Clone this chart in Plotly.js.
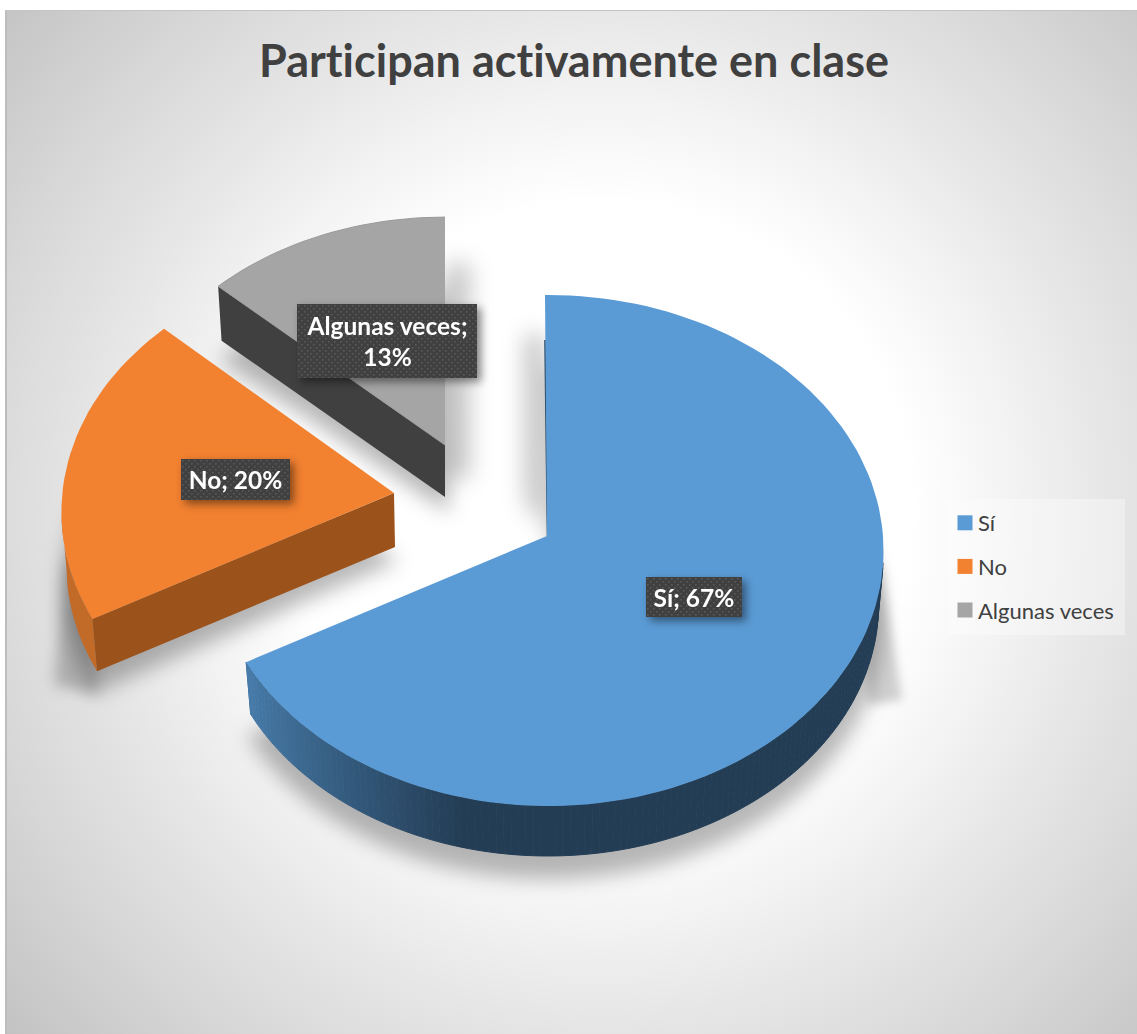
<!DOCTYPE html>
<html>
<head>
<meta charset="utf-8">
<script src="https://cdn.plot.ly/plotly-3.0.1.min.js"></script>
<style>
html,body{margin:0;padding:0;background:#fff;width:1137px;height:1034px;overflow:hidden}
#bg{position:absolute;left:5px;top:10px;width:1132px;height:1024px;box-sizing:border-box;border-left:2px solid #bdbdbd;border-top:1px solid #c4c4c4;
background:radial-gradient(circle at 595px 500px,#fff 0,#fff 310px,#f3f3f3 410px,#e6e6e6 510px,#d9d9d9 620px,#c2c2c2 800px)}
#chart{position:absolute;left:0;top:0;width:1137px;height:1034px}
svg text,svg tspan{font-variant-ligatures:none !important;font-feature-settings:"liga" 0,"clig" 0 !important;letter-spacing:0.01px}
</style>
</head>
<body>
<div id="bg"></div>
<div id="chart"></div>
<script>
// ---- data ----
const categories = ['Sí', 'No', 'Algunas veces'];
const shares = [67, 20, 13];
const chartTitle = 'Participan activamente en clase';

// ---- styling ----
const faceColors = ['#5b9bd5', '#f28130', '#a5a5a5'];
const cutColors = [null, '#9c521b', '#404040'];
const labelBreaks = ['; ', '; ', ';<br>'];

// ---- 3D projection geometry (pixels on the axes) ----
const RX = 335, RY = 254.7, BOTTOM_SCALE = 0.985;
const geom = [
  {ax: 548, ay: 536, scale: 1.00, depth: 54, p: 0.0568, ky: 1},
  {ax: 394, ay: 493, scale: 0.99, depth: 54, p: 0.075, ky: 1},
  {ax: 445, ay: 445, scale: 0.965, depth: 52, p: 0.0568, ky: 0.98}
];
const labelBoxes = [
  {x: 694, y: 597, w: 96, h: 40},
  {x: 235.5, y: 479.5, w: 109, h: 41},
  {x: 387, y: 341, w: 180, h: 74}
];

function proj(deg, g, bottom) {
  const t = deg * Math.PI / 180, X = Math.sin(t), Y = Math.cos(t);
  const s = g.scale * (bottom ? BOTTOM_SCALE : 1) / (1 + g.p * Y);
  return [g.ax + RX * X * s, g.ay - RY * g.ky * Y * s + (bottom ? g.depth : 0)];
}
function poly(pts, color, extra) {
  return Object.assign({
    x: pts.map(p => p[0]), y: pts.map(p => p[1]), mode: 'lines', fill: 'toself',
    fillcolor: color, line: {width: 0, color: color}, showlegend: false, hoverinfo: 'skip'
  }, extra || {});
}
function mix(a, b, t) {
  const c = [0, 1, 2].map(i => Math.round(a[i] + (b[i] - a[i]) * t));
  return 'rgb(' + c.join(',') + ')';
}

// slice start / end angles from the values
const total = shares.reduce((a, b) => a + b, 0);
let run = 0;
const spans = shares.map(v => { const s = [run / total * 360, (run + v) / total * 360]; run += v; return s; });

function ring(g, a0, a1, bottom, extraScale, extraDy) {
  const pts = [];
  const n = Math.max(4, Math.ceil(Math.abs(a1 - a0) / 2));
  const gg = Object.assign({}, g, {scale: g.scale * (extraScale || 1), ay: g.ay + (extraDy || 0)});
  for (let i = 0; i <= n; i++) pts.push(proj(a0 + (a1 - a0) * i / n, gg, bottom));
  return pts;
}

const traces = [];
// soft shadows first
const shadows = [];
function shadow(pts, color, blur) { shadows.push({i: traces.length, blur: blur}); traces.push(poly(pts, color)); }
// projected wedges around the pie
shadow([[881, 560], [902, 700], [868, 705], [862, 600]], 'rgba(0,0,0,0.17)', 5);
shadow([[66, 555], [54, 685], [98, 695], [92, 600]], 'rgba(0,0,0,0.22)', 7);
shadow([[445, 263], [470, 263], [470, 478], [445, 478]], 'rgba(0,0,0,0.22)', 11);
shadow([[545, 335], [525, 335], [525, 500], [545, 530]], 'rgba(0,0,0,0.24)', 11);
spans.forEach((sp, i) => {
  const g = geom[i];
  shadow([[g.ax + 4, g.ay + 68]].concat(ring(g, sp[0], sp[1], true, 1.01, 20)), 'rgba(0,0,0,0.28)', 10);
});

// gray slice
(function () {
  const g = geom[2], sp = spans[2];
  const a = [g.ax, g.ay], o = proj(sp[0], g), ob = proj(sp[0], g, true);
  traces.push(poly([a, o, ob, [g.ax, g.ay + g.depth]], cutColors[2]));
  traces.push(poly([a].concat(ring(g, sp[0], sp[1])), faceColors[2], {line: {width: 1, color: '#9a9a9a'}}));
})();
// orange slice
(function () {
  const g = geom[1], sp = spans[1];
  const a = [g.ax, g.ay], o = proj(sp[0], g), ob = proj(sp[0], g, true);
  const top = ring(g, sp[0], sp[0] + 24), bot = ring(g, sp[0], sp[0] + 24, true).reverse();
  traces.push(poly(top.concat(bot), '#c26b28'));
  traces.push(poly([a, o, ob, [g.ax + 1, g.ay + g.depth]], cutColors[1]));
  traces.push(poly([a].concat(ring(g, sp[0], sp[1])), faceColors[1]));
})();
// blue slice: outer wall, shaded by segments
(function () {
  const g = geom[0], sp = spans[0];
  const light = [70, 122, 168], dark = [35, 61, 85];
  const step = 1.2;
  for (let d = 96; d < sp[1]; d += step) {
    const e = Math.min(d + step, sp[1]);
    const top = ring(g, d, e), bot = ring(g, d, e, true).reverse();
    const px = proj((d + e) / 2, g)[0];
    const t = Math.max(0, Math.min(1, (px - 250) / 210));
    const c = mix(light, dark, Math.pow(t, 0.85));
    traces.push(poly(top.concat(bot), c, {line: {width: 1, color: c}}));
  }
  const inner = proj(sp[0], g);
  traces.push({x: [g.ax - 3, g.ax - 0.5], y: [inner[1] + 45, g.ay], mode: 'lines',
    line: {color: '#2a4a66', width: 1.6}, showlegend: false, hoverinfo: 'skip'});
  traces.push(poly([[g.ax - 1, g.ay], [g.ax - 3, inner[1]]].concat(ring(g, sp[0], sp[1])), faceColors[0]));
})();

// legend entries
categories.forEach((name, i) => traces.push({
  x: [null], y: [null], type: 'scatter', mode: 'markers', name: name, legendgroup: name,
  marker: {symbol: 'square', size: 15, color: faceColors[i]}, hoverinfo: 'skip'
}));

const annotations = categories.map((name, i) => ({
  x: labelBoxes[i].x, y: labelBoxes[i].y, xref: 'x', yref: 'y', showarrow: false,
  text: '<b>' + name + labelBreaks[i] + shares[i] + '%</b>',
  width: labelBoxes[i].w, height: labelBoxes[i].h, bgcolor: '#404040', align: 'center', valign: 'middle',
  borderpad: 0, borderwidth: 0,
  font: {family: 'Lato, sans-serif', size: 24.5, color: '#ffffff'}
}));

const layout = {
  width: 1137, height: 1034, margin: {l: 0, r: 0, t: 0, b: 0, pad: 0},
  paper_bgcolor: 'rgba(0,0,0,0)', plot_bgcolor: 'rgba(0,0,0,0)',
  title: {text: '<b>' + chartTitle + '</b>', x: 574 / 1137, xanchor: 'center', y: 1 - 61 / 1034, yanchor: 'middle',
    font: {family: 'Lato, sans-serif', size: 45, color: '#404040'}},
  xaxis: {range: [0, 1137], visible: false, fixedrange: true},
  yaxis: {range: [1034, 0], visible: false, fixedrange: true},
  shapes: [{type: 'rect', layer: 'below', xref: 'x', yref: 'y', x0: 948, x1: 1125, y0: 499, y1: 635,
    fillcolor: 'rgba(255,255,255,0.35)', line: {width: 0}}],
  showlegend: true,
  legend: {x: 945 / 1137, xanchor: 'left', y: 1 - 502 / 1034, yanchor: 'top',
    bgcolor: 'rgba(0,0,0,0)', borderwidth: 0, traceorder: 'grouped', tracegroupgap: 12,
    font: {family: 'Lato, sans-serif', size: 22, color: '#404040'}, itemwidth: 30},
  annotations: annotations,
  hovermode: false
};

Plotly.newPlot('chart', traces, layout, {displayModeBar: false, staticPlot: true}).then(() => {
  const gd = document.getElementById('chart');
  const tr = gd.querySelectorAll('.scatterlayer .trace');
  shadows.forEach(s => { if (tr[s.i]) tr[s.i].style.filter = 'blur(' + s.blur + 'px)'; });
  const svg = gd.querySelector('svg.main-svg');
  const ns = 'http://www.w3.org/2000/svg';
  const defs = document.createElementNS(ns, 'defs');
  defs.innerHTML = '<pattern id="dots" width="6" height="6" patternUnits="userSpaceOnUse">' +
    '<rect width="6" height="6" fill="#404040"/><rect x="1" y="1" width="1.6" height="1.6" fill="#595959"/>' +
    '<rect x="4" y="4" width="1.6" height="1.6" fill="#595959"/></pattern>';
  svg.insertBefore(defs, svg.firstChild);
  gd.querySelectorAll('.annotation').forEach(a => {
    a.style.filter = 'drop-shadow(4px 4px 4px rgba(0,0,0,0.45))';
    const bg = a.querySelector('rect.bg');
    if (bg) bg.style.fill = 'url(#dots)';
  });
  gd.querySelectorAll('.legend text.legendtext').forEach(t => {
    t.setAttribute('x', parseFloat(t.getAttribute('x')) - 7);
  });
});
</script>
</body>
</html>
